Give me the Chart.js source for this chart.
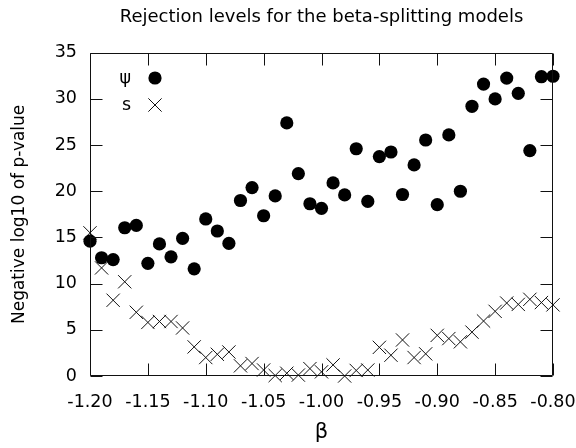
<!DOCTYPE html>
<html>
<head>
<meta charset="utf-8">
<script src="https://cdn.jsdelivr.net/npm/chart.js@4.4.0/dist/chart.umd.min.js"></script>
<style>
html,body{margin:0;padding:0;background:#fff;}
#wrap{width:576px;height:448px;}
</style>
</head>
<body>
<div id="wrap"><canvas id="c" width="576" height="448"></canvas></div>
<script>
// ---- data ----
const betaValues = [-1.20, -1.19, -1.18, -1.17, -1.16, -1.15, -1.14, -1.13, -1.12, -1.11,
                    -1.10, -1.09, -1.08, -1.07, -1.06, -1.05, -1.04, -1.03, -1.02, -1.01,
                    -1.00, -0.99, -0.98, -0.97, -0.96, -0.95, -0.94, -0.93, -0.92, -0.91,
                    -0.90, -0.89, -0.88, -0.87, -0.86, -0.85, -0.84, -0.83, -0.82, -0.81, -0.80];
const psiValues = [14.6, 12.8, 12.6, 16.05, 16.3, 12.2, 14.3, 12.9, 14.9, 11.6,
                   17.0, 15.7, 14.35, 19.0, 20.4, 17.35, 19.5, 27.4, 21.9, 18.65,
                   18.15, 20.9, 19.6, 24.6, 18.9, 23.75, 24.25, 19.65, 22.85, 25.55,
                   18.55, 26.1, 20.0, 29.2, 31.6, 30.0, 32.25, 30.6, 24.4, 32.4, 32.45];
const sValues = [15.5, 11.7, 8.2, 10.2, 6.9, 5.8, 5.9, 5.9, 5.2, 3.15,
                 2.0, 2.35, 2.6, 1.1, 1.35, 0.65, 0.05, 0.3, 0.1, 0.8,
                 0.45, 1.2, 0.0, 0.6, 0.65, 3.1, 2.25, 3.9, 2.0, 2.4,
                 4.4, 4.05, 3.7, 4.75, 5.95, 7.0, 7.9, 7.75, 8.3, 7.95, 7.7];
const xTickValues = [-1.20, -1.15, -1.10, -1.05, -1.00, -0.95, -0.90, -0.85, -0.80];
const yTickValues = [0, 5, 10, 15, 20, 25, 30, 35];
const seriesNames = ['\u03C8', 's'];
const chartTitle = 'Rejection levels for the beta-splitting models';
const xAxisTitle = '\u03B2';
const yAxisTitle = 'Negative log10 of p-value';

const FONT = "'DejaVu Sans', sans-serif";

// chart title, centred over the plot area (as in the reference)
const titlePlugin = {
  id: 'plotTitle',
  afterDraw(chart) {
    const {ctx, chartArea: a} = chart;
    ctx.save();
    ctx.font = '18px ' + FONT;
    ctx.fillStyle = '#000';
    ctx.textAlign = 'center';
    ctx.textBaseline = 'middle';
    ctx.fillText(chartTitle, (a.left + a.right) / 2, 17.5);
    ctx.restore();
  }
};

const framePlugin = {
  id: 'frame',
  afterDatasetsDraw(chart) {
    const {ctx, chartArea: a, scales} = chart;
    const L = Math.round(a.left) + 0.5, R = Math.round(a.right) - 0.5;
    const T = Math.round(a.top) + 0.5, B = Math.round(a.bottom) - 0.5;
    const tl = 12;
    ctx.save();
    ctx.strokeStyle = '#111';
    ctx.lineWidth = 1;
    ctx.beginPath();
    ctx.rect(L, T, R - L, B - T);
    scales.x.ticks.forEach(t => {
      const px = Math.round(scales.x.getPixelForValue(t.value)) + 0.5;
      ctx.moveTo(px, B); ctx.lineTo(px, B - tl);
      ctx.moveTo(px, T); ctx.lineTo(px, T + tl);
    });
    scales.y.ticks.forEach(t => {
      const py = Math.round(scales.y.getPixelForValue(t.value)) + 0.5;
      ctx.moveTo(L, py); ctx.lineTo(L + tl, py);
      ctx.moveTo(R, py); ctx.lineTo(R - tl, py);
    });
    ctx.stroke();
    ctx.restore();
  }
};

const legendPlugin = {
  id: 'gpLegend',
  afterDatasetsDraw(chart) {
    const {ctx} = chart;
    const textRight = 131, markX = 155, rows = [78, 105];
    ctx.save();
    ctx.font = '17.5px ' + FONT;
    ctx.textAlign = 'right';
    ctx.textBaseline = 'middle';
    chart.data.datasets.forEach((ds, i) => {
      const y = rows[i];
      ctx.fillStyle = '#000';
      ctx.fillText(ds.label, textRight, y);
      ctx.fillStyle = ds.backgroundColor;
      ctx.strokeStyle = ds.borderColor;
      ctx.lineWidth = ds.borderWidth;
      Chart.helpers.drawPoint(ctx, {pointStyle: ds.pointStyle, radius: ds.pointRadius, borderWidth: ds.borderWidth, rotation: 0}, markX, y);
    });
    ctx.restore();
  }
};

new Chart(document.getElementById('c'), {
  type: 'scatter',
  data: {
    datasets: [
      {
        label: seriesNames[0],
        data: betaValues.map((b, i) => ({x: b, y: psiValues[i]})),
        pointStyle: 'circle',
        pointRadius: 6.6,
        pointHoverRadius: 6.6,
        backgroundColor: '#000',
        borderColor: '#000',
        borderWidth: 0,
        clip: false
      },
      {
        label: seriesNames[1],
        data: betaValues.map((b, i) => ({x: b, y: sValues[i]})),
        pointStyle: 'crossRot',
        pointRadius: 9.4,
        pointHoverRadius: 9.4,
        backgroundColor: '#000',
        borderColor: '#111',
        borderWidth: 1,
        clip: false
      }
    ]
  },
  options: {
    responsive: false,
    animation: false,
    devicePixelRatio: 1,
    events: [],
    layout: {padding: {left: 0, right: 23, top: 52.7, bottom: 0}},
    plugins: {
      legend: {display: false},
      tooltip: {enabled: false},
      title: {display: false}
    },
    scales: {
      x: {
        type: 'linear',
        min: -1.2,
        max: -0.8,
        afterBuildTicks: s => { s.ticks = xTickValues.map(v => ({value: v})); },
        afterFit: s => { s.height = 72; s.paddingLeft = 0; s.paddingRight = 0; },
        grid: {display: false, drawTicks: false},
        border: {display: false},
        ticks: {
          color: '#000',
          font: {family: FONT, size: 17.5},
          padding: 16,
          maxRotation: 0,
          callback: v => Number(v).toFixed(2)
        },
        title: {
          display: true,
          text: xAxisTitle,
          color: '#000',
          font: {family: FONT, size: 21},
          padding: {top: 0, bottom: 2.4}
        }
      },
      y: {
        type: 'linear',
        min: 0,
        max: 35,
        afterBuildTicks: s => { s.ticks = yTickValues.map(v => ({value: v})); },
        afterFit: s => { s.width = 90; s.paddingTop = 0; s.paddingBottom = 0; },
        grid: {display: false, drawTicks: false},
        border: {display: false},
        ticks: {
          color: '#000',
          font: {family: FONT, size: 17.5},
          padding: 13,
          callback: v => String(v)
        },
        title: {
          display: true,
          text: yAxisTitle,
          color: '#000',
          font: {family: FONT, size: 17},
          padding: {top: 9.8, bottom: 0}
        }
      }
    }
  },
  plugins: [titlePlugin, framePlugin, legendPlugin]
});
</script>
</body>
</html>
